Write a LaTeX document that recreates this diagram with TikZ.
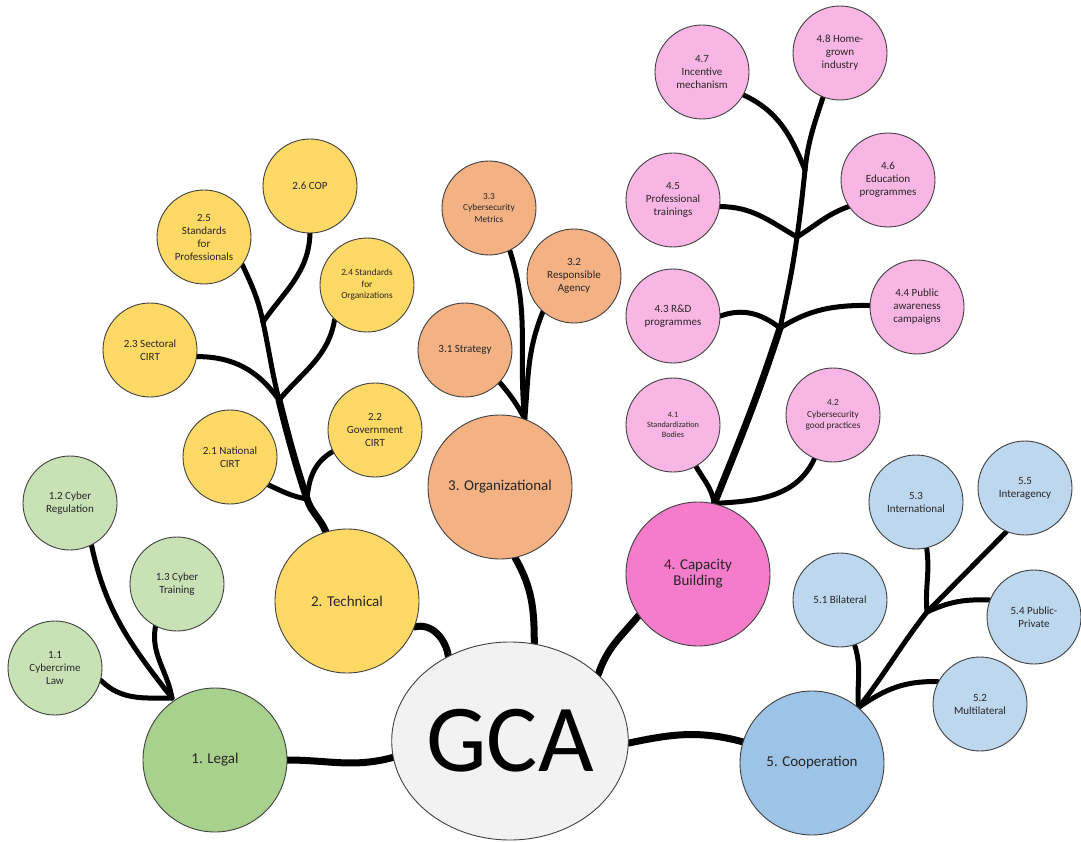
\documentclass[tikz,border=0pt]{standalone}
\usepackage{fontspec}
\setmainfont{Carlito}
\usetikzlibrary{shapes.geometric,backgrounds}
\definecolor{legalmain}{HTML}{A9D18E}
\definecolor{legalsub}{HTML}{C8E2B6}
\definecolor{techc}{HTML}{FFD966}
\definecolor{orgc}{HTML}{F4B183}
\definecolor{capmain}{HTML}{F47CCB}
\definecolor{capsub}{HTML}{F9B6E4}
\definecolor{coopmain}{HTML}{9DC3E6}
\definecolor{coopsub}{HTML}{BDD7EE}
\definecolor{gcac}{HTML}{F2F2F2}
\definecolor{edge}{HTML}{404040}
\definecolor{txt}{HTML}{262626}
\begin{document}
\begin{tikzpicture}[x=1pt,y=-1pt,
  bubble/.style={circle, draw=edge, line width=0.9pt, inner sep=0pt, align=center, text=txt},
  mainb/.style={bubble, minimum size=144pt, font=\fontsize{15}{16}\selectfont},
  subb/.style={bubble, minimum size=94pt, font=\fontsize{11}{13}\selectfont},
  smalltext/.style={font=\fontsize{9.3}{11.5}\selectfont},
  tinytext/.style={font=\fontsize{8.2}{10}\selectfont},
  conn/.style={line width=5pt, line cap=round, black},
  trunk/.style={line width=7pt, line cap=round, black}]
\useasboundingbox (0,0) rectangle (1081,842);

% centre
\node[ellipse, draw=edge, line width=0.9pt, fill=gcac, minimum width=234pt, minimum height=198pt, inner sep=0pt, font=\fontsize{96}{100}\selectfont] (G) at (510,741) {GCA};

% 1 Legal
\node[mainb, fill=legalmain] (L) at (215,760) {1. Legal};
\node[subb, fill=legalsub] (L11) at (55,668) {1.1\\Cybercrime\\Law};
\node[subb, fill=legalsub] (L12) at (70,503) {1.2 Cyber\\Regulation};
\node[subb, fill=legalsub] (L13) at (177,584) {1.3 Cyber\\Training};

% 2 Technical
\node[mainb, fill=techc] (T) at (347,601) {2. Technical};
\node[subb, fill=techc] (S21) at (230,457) {2.1 National\\CIRT};
\node[subb, fill=techc] (S22) at (375,430) {2.2\\Government\\CIRT};
\node[subb, fill=techc] (S23) at (150,350) {2.3 Sectoral\\CIRT};
\node[subb, fill=techc, smalltext] (S24) at (367,285) {2.4 Standards\\for\\Organizations};
\node[subb, fill=techc] (S25) at (204,237) {2.5\\Standards\\for\\Professionals};
\node[subb, fill=techc] (S26) at (310,186) {2.6 COP};

% 3 Organizational
\node[mainb, fill=orgc] (O) at (500,487) {3. Organizational};
\node[subb, fill=orgc] (S31) at (465,350) {3.1 Strategy};
\node[subb, fill=orgc] (S32) at (574,276) {3.2\\Responsible\\Agency};
\node[subb, fill=orgc, smalltext] (S33) at (489,208) {3.3\\Cybersecurity\\Metrics};

% 4 Capacity Building
\node[mainb, fill=capmain] (C) at (698,574) {4. Capacity\\Building};
\node[subb, fill=capsub, tinytext] (S41) at (673,425) {4.1\\Standardization\\Bodies};
\node[subb, fill=capsub, smalltext] (S42) at (833,415) {4.2\\Cybersecurity\\good practices};
\node[subb, fill=capsub] (S43) at (673,316) {4.3 R\&D\\programmes};
\node[subb, fill=capsub] (S44) at (917,307) {4.4 Public\\awareness\\campaigns};
\node[subb, fill=capsub] (S45) at (673,200) {4.5\\Professional\\trainings};
\node[subb, fill=capsub] (S46) at (888,180) {4.6\\Education\\programmes};
\node[subb, fill=capsub] (S47) at (702,72) {4.7\\Incentive\\mechanism};
\node[subb, fill=capsub] (S48) at (840,53) {4.8 Home-\\grown\\industry};

% 5 Cooperation
\node[mainb, fill=coopmain] (P) at (812,763) {5. Cooperation};
\node[subb, fill=coopsub] (S51) at (840,600) {5.1 Bilateral};
\node[subb, fill=coopsub] (S52) at (980,704) {5.2\\Multilateral};
\node[subb, fill=coopsub] (S53) at (916,502) {5.3\\International};
\node[subb, fill=coopsub] (S54) at (1034,617) {5.4 Public-\\Private};
\node[subb, fill=coopsub] (S55) at (1025,488) {5.5\\Interagency};

% junctions
\coordinate (JL) at (172,698);
\coordinate (J2a) at (307,499);
\coordinate (J2b) at (279,400);
\coordinate (J2c) at (263,322);
\coordinate (JO) at (O.70);
\coordinate (JC) at (C.77);
\coordinate (J4a) at (780,328);
\coordinate (J4b) at (797,237);
\coordinate (J4c) at (805,170);
\coordinate (JP) at (P.50);
\coordinate (J5) at (927,612);

\begin{scope}[on background layer]
  % centre links
  \draw[trunk] (L.0) to[out=0,in=195] (G.188);
  \draw[trunk] (T.-21) to[out=15,in=98] (G.126);
  \draw[trunk] (O.-78) to[out=-60,in=90] (G.76);
  \draw[trunk] (C.215) to[out=230,in=72] (G.37);
  \draw[trunk] (G.-1) to[out=12,in=165] (P.163);
  % legal
  \draw[conn] (L11.-15) to[out=-45,in=180] (JL);
  \draw[conn] (L12.-63) to[out=-78,in=128] (JL);
  \draw[conn] (L13.-117) to[out=-100,in=100] (JL);
  % technical
  \draw[trunk] (T.107) to[out=112,in=-72] (J2a);
  \draw[trunk] (J2a) to[out=108,in=-76] (J2b);
  \draw[conn] (J2b) to[out=104,in=-78] (J2c);
  \draw[conn] (J2c) to[out=102,in=-65] (S25.-36);
  \draw[conn] (S21.-36) to[out=-25,in=170] (J2a);
  \draw[conn] (S22.207) to[out=210,in=85] (J2a);
  \draw[conn] (S23.-8) to[out=0,in=125] (J2b);
  \draw[conn] (S24.227) to[out=-100,in=50] (J2b);
  \draw[conn] (S26.-90) to[out=-92,in=55] (J2c);
  % organizational
  \draw[conn] (S31.-43) to[out=-50,in=118] (JO);
  \draw[conn] (S32.229) to[out=-112,in=85] (JO);
  \draw[conn] (S33.-64) to[out=-72,in=96] (JO);
  % capacity building
  \draw[trunk] (JC) to[out=68,in=-108] (J4a);
  \draw[conn] (J4a) to[out=78,in=-98] (J4b);
  \draw[conn] (J4b) to[out=82,in=-96] (J4c);
  \draw[conn] (J4c) to[out=84,in=-108] (S48.249);
  \draw[conn] (S41.-61) to[out=-60,in=100] (JC);
  \draw[conn] (S42.247) to[out=-115,in=3] (JC);
  \draw[conn] (S43.0) to[out=20,in=142] (J4a);
  \draw[conn] (S44.178) to[out=180,in=32] (J4a);
  \draw[conn] (S45.-8) to[out=0,in=150] (J4b);
  \draw[conn] (S46.214) to[out=200,in=32] (J4b);
  \draw[conn] (S47.-29) to[out=-25,in=112] (J4c);
  % cooperation
  \draw[conn] (S51.-72) to[out=-72,in=95] (JP);
  \draw[conn] (S52.152) to[out=178,in=35] (JP);
  \draw[conn] (JP) to[out=52,in=-128] (J5);
  \draw[conn] (S53.-77) to[out=-82,in=95] (J5);
  \draw[conn] (S54.159) to[out=178,in=25] (J5);
  \draw[conn] (S55.247) -- (J5);
\end{scope}
\end{tikzpicture}
\end{document}
